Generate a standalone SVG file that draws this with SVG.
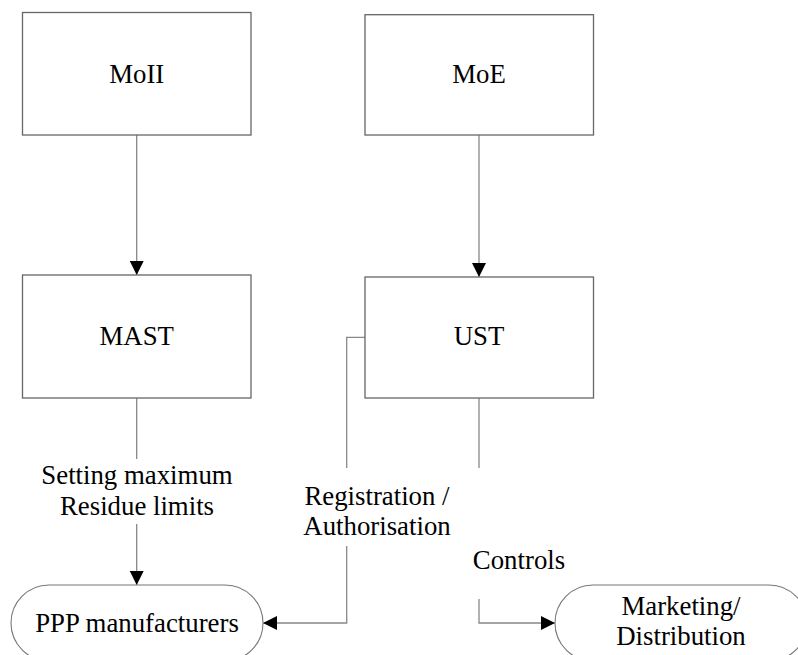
<svg xmlns="http://www.w3.org/2000/svg" width="798" height="655" viewBox="0 0 798 655">
<style>
.box{fill:#fff;stroke:#666;stroke-width:1.3}
.term{fill:#fff;stroke:#777;stroke-width:1.1}
.t{font-family:"Liberation Serif","Times New Roman",serif;font-size:26.8px;fill:#000;text-anchor:middle}
.c{fill:none;stroke:#888;stroke-width:1.3}
</style>
<defs>
<marker id="ah" markerWidth="14" markerHeight="14" viewBox="0 0 14 14" refX="14" refY="7" orient="auto" markerUnits="userSpaceOnUse">
<path d="M0,0 L14,7 L0,14 Z" fill="#000"/>
</marker>
</defs>
<rect width="798" height="655" fill="#fff"/>
<g id="connectors">
<line class="c" x1="136.7" y1="135" x2="136.7" y2="275" marker-end="url(#ah)"/>
<line class="c" x1="479" y1="135" x2="479" y2="277" marker-end="url(#ah)"/>
<line class="c" x1="136.7" y1="398" x2="136.7" y2="459"/>
<line class="c" x1="136.7" y1="524" x2="136.7" y2="585" marker-end="url(#ah)"/>
<polyline class="c" points="365,337.3 346.7,337.3 346.7,468"/>
<polyline class="c" points="346.7,546 346.7,623 263,623" marker-end="url(#ah)"/>
<line class="c" x1="479" y1="398" x2="479" y2="468"/>
<polyline class="c" points="479,599 479,623 555,623" marker-end="url(#ah)"/>
<text class="t" x="137" y="484">Setting maximum</text>
<text class="t" x="137" y="515">Residue limits</text>
<text class="t" x="377" y="505">Registration /</text>
<text class="t" x="377" y="535">Authorisation</text>
<text class="t" x="519" y="569">Controls</text>
</g>
<g id="moii">
<rect class="box" x="22.5" y="12.5" width="228.5" height="122.5"/>
<text class="t" x="136.7" y="83">MoII</text>
</g>
<g id="moe">
<rect class="box" x="365" y="14.7" width="228.5" height="120.3"/>
<text class="t" x="479" y="83">MoE</text>
</g>
<g id="mast">
<rect class="box" x="22.5" y="275" width="228.5" height="123"/>
<text class="t" x="136.7" y="345">MAST</text>
</g>
<g id="ust">
<rect class="box" x="365" y="277" width="228.5" height="121"/>
<text class="t" x="479" y="345">UST</text>
</g>
<g id="ppp">
<rect class="term" x="11" y="585" width="252" height="76" rx="38" ry="38"/>
<text class="t" x="137" y="632">PPP manufacturers</text>
</g>
<g id="marketing">
<rect class="term" x="555" y="585" width="252" height="76" rx="38" ry="38"/>
<text class="t" x="681" y="615">Marketing/</text>
<text class="t" x="681" y="645">Distribution</text>
</g>
</svg>
